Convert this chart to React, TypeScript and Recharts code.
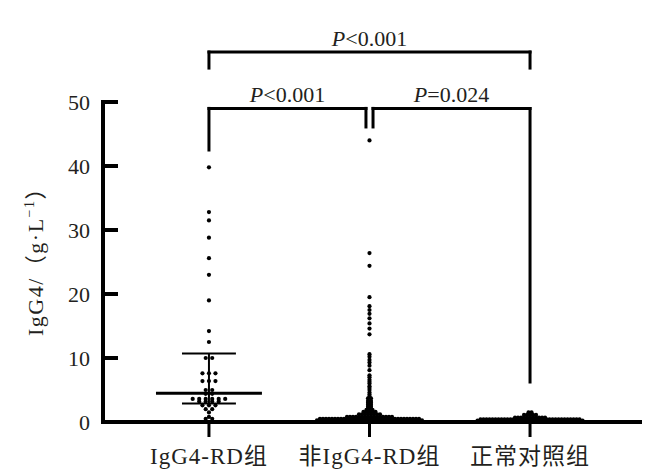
import React from "react";
import { ScatterChart, Scatter, XAxis, YAxis, ReferenceLine } from "recharts";

const FONT = '"Liberation Serif", "Times New Roman", "Noto Sans CJK SC", serif';
const INK = "#231f20";

const CATEGORIES = ["IgG4-RD组", "非IgG4-RD组", "正常对照组"];
const Y_TICKS = [0, 10, 20, 30, 40, 50];

// each row: a value (g/L) and how many dots sit side by side at that level
const IGG4_RD_ROWS = [
  { value: 39.8, count: 1 },
  { value: 32.8, count: 1 },
  { value: 31.5, count: 1 },
  { value: 28.8, count: 1 },
  { value: 25.6, count: 1 },
  { value: 23.0, count: 1 },
  { value: 19.0, count: 1 },
  { value: 14.2, count: 1 },
  { value: 12.5, count: 1 },
  { value: 10.0, count: 2 },
  { value: 7.6, count: 3 },
  { value: 6.4, count: 3 },
  { value: 5.0, count: 2 },
  { value: 4.4, count: 2 },
  { value: 3.6, count: 6 },
  { value: 3.2, count: 4 },
  { value: 2.6, count: 3 },
  { value: 2.0, count: 2 },
  { value: 1.5, count: 1 },
  { value: 0.8, count: 1 },
  { value: 0.5, count: 2 },
];

const NON_IGG4_RD_ROWS = [
  { value: 44.0, count: 1 },
  { value: 26.4, count: 1 },
  { value: 24.4, count: 1 },
  { value: 19.5, count: 1 },
  { value: 18.1, count: 1 },
  { value: 17.5, count: 1 },
  { value: 16.9, count: 1 },
  { value: 16.2, count: 1 },
  { value: 15.4, count: 1 },
  { value: 14.6, count: 1 },
  { value: 13.7, count: 1 },
  { value: 10.6, count: 1 },
  { value: 10.2, count: 1 },
  { value: 9.7, count: 1 },
  { value: 9.3, count: 1 },
  { value: 8.8, count: 1 },
  { value: 8.1, count: 1 },
  { value: 7.3, count: 1 },
  { value: 7.0, count: 1 },
  { value: 6.6, count: 1 },
  { value: 6.3, count: 1 },
  { value: 6.0, count: 1 },
  { value: 5.6, count: 1 },
  { value: 5.3, count: 1 },
  { value: 5.0, count: 1 },
  { value: 4.6, count: 1 },
  { value: 4.3, count: 1 },
  { value: 4.0, count: 1 },
  { value: 3.7, count: 2 },
  { value: 3.3, count: 2 },
  { value: 3.0, count: 2 },
  { value: 2.7, count: 2 },
  { value: 2.4, count: 2 },
  { value: 2.1, count: 2 },
  { value: 1.9, count: 3 },
  { value: 1.6, count: 5 },
  { value: 1.2, count: 8 },
  { value: 0.8, count: 16 },
  { value: 0.5, count: 34 },
  { value: 0.25, count: 36 },
];

const CONTROL_ROWS = [
  { value: 1.5, count: 2 },
  { value: 1.1, count: 5 },
  { value: 0.7, count: 11 },
  { value: 0.4, count: 34 },
  { value: 0.2, count: 36 },
];

const IGG4_RD_MEDIAN = 4.5;
const IGG4_RD_Q1 = 2.9;
const IGG4_RD_Q3 = 10.7;

const BRACKETS = [
  { from: 1, to: 3, level: 57.8, leftDrop: 55.3, rightDrop: 55.3, p: "<0.001" },
  { from: 1, to: 1.978, level: 49.0, leftDrop: 42.5, rightDrop: 46.1, p: "<0.001" },
  { from: 2.022, to: 3, level: 49.0, leftDrop: 46.1, rightDrop: 6.25, p: "=0.024" },
];

// layout in x units (one category = 160.5 px)
const PX = 1 / 160.5;
const swarm = (rows, center, gapPx) =>
  rows.flatMap((r) =>
    Array.from({ length: r.count }, (_, i) => ({
      x: center + (i - (r.count - 1) / 2) * gapPx * PX,
      y: r.value,
    }))
  );

const igg4Pts = swarm(IGG4_RD_ROWS, 1, 6.5);
const nonPts = swarm(NON_IGG4_RD_ROWS, 2, 3);
const ctrlPts = swarm(CONTROL_ROWS, 3, 3);

const Dot = (p) => <circle cx={p.cx} cy={p.cy} r={2.1} fill="#000" />;

const textStyle = { fontFamily: FONT, fill: INK };

function YTick({ x, y, payload }) {
  return (
    <g>
      <line x1={x + 13} x2={x + 28} y1={y} y2={y} stroke="#000" strokeWidth={4} />
      <text x={x} y={y} dy="0.35em" textAnchor="end" style={{ ...textStyle, fontSize: 22 }}>
        {payload.value}
      </text>
    </g>
  );
}

function XTick({ x, y, payload }) {
  return (
    <text
      x={x}
      y={y}
      dy="0.8em"
      textAnchor="middle"
      style={{ ...textStyle, fontSize: 23, letterSpacing: 1 }}
    >
      {CATEGORIES[payload.value - 1]}
    </text>
  );
}

function YLabel({ viewBox }) {
  const cx = viewBox.x + 43;
  const cy = viewBox.y + viewBox.height / 2 - 6;
  return (
    <text
      x={cx}
      y={cy}
      transform={`rotate(-90 ${cx} ${cy})`}
      textAnchor="middle"
      style={{ ...textStyle, fontSize: 22, letterSpacing: 1.5 }}
    >
      IgG4/（g·L<tspan style={{ fontSize: 14 }} dy={-9}>−1</tspan>
      <tspan dy={9}>）</tspan>
    </text>
  );
}

function PLabel({ viewBox, p }) {
  if (!viewBox) return null;
  return (
    <text
      x={viewBox.x + viewBox.width / 2}
      y={viewBox.y - 6}
      textAnchor="middle"
      style={{ ...textStyle, fontSize: 22 }}
    >
      <tspan style={{ fontStyle: "italic" }}>P</tspan>
      {p}
    </text>
  );
}

const LINE = { stroke: "#000", strokeWidth: 3, strokeLinecap: "square" as const };

export default function App() {
  return (
    <div style={{ position: "absolute", left: 0, top: 0, background: "#fff" }}>
      <ScatterChart width={658} height={473} margin={{ top: 102, right: 18, left: 0, bottom: 0 }}>
        <XAxis
          type="number"
          dataKey="x"
          domain={[0.34, 3.685]}
          ticks={[1, 2, 3]}
          allowDataOverflow
          height={51}
          tickSize={15}
          tickMargin={9}
          tickLine={{ stroke: "#000", strokeWidth: 3 }}
          axisLine={{ stroke: "#000", strokeWidth: 4, strokeLinecap: "square" }}
          tick={<XTick />}
        />
        <YAxis
          type="number"
          dataKey="y"
          domain={[0, 50]}
          ticks={Y_TICKS}
          allowDataOverflow
          width={103}
          tickSize={0}
          tickMargin={13}
          tickLine={false}
          axisLine={{ stroke: "#000", strokeWidth: 4, strokeLinecap: "square" }}
          tick={<YTick />}
          label={<YLabel />}
        />
        <Scatter data={igg4Pts} shape={Dot} isAnimationActive={false} />
        <Scatter data={nonPts} shape={Dot} isAnimationActive={false} />
        <Scatter data={ctrlPts} shape={Dot} isAnimationActive={false} />

        <ReferenceLine
          segment={[{ x: 1 - 0.33, y: IGG4_RD_MEDIAN }, { x: 1 + 0.33, y: IGG4_RD_MEDIAN }]}
          stroke="#000"
          strokeWidth={3}
          ifOverflow="visible"
        />
        <ReferenceLine
          segment={[{ x: 1 - 0.168, y: IGG4_RD_Q3 }, { x: 1 + 0.168, y: IGG4_RD_Q3 }]}
          stroke="#000"
          strokeWidth={2}
          ifOverflow="visible"
        />
        <ReferenceLine
          segment={[{ x: 1 - 0.168, y: IGG4_RD_Q1 }, { x: 1 + 0.168, y: IGG4_RD_Q1 }]}
          stroke="#000"
          strokeWidth={2}
          ifOverflow="visible"
        />
        <ReferenceLine
          segment={[{ x: 1, y: IGG4_RD_Q1 }, { x: 1, y: IGG4_RD_Q3 }]}
          stroke="#000"
          strokeWidth={2}
          ifOverflow="visible"
        />

        {BRACKETS.map((b, i) => (
          <ReferenceLine
            key={`h${i}`}
            segment={[{ x: b.from, y: b.level }, { x: b.to, y: b.level }]}
            {...LINE}
            ifOverflow="visible"
            label={<PLabel p={b.p} />}
          />
        ))}
        {BRACKETS.map((b, i) => (
          <ReferenceLine
            key={`l${i}`}
            segment={[{ x: b.from, y: b.level }, { x: b.from, y: b.leftDrop }]}
            {...LINE}
            ifOverflow="visible"
          />
        ))}
        {BRACKETS.map((b, i) => (
          <ReferenceLine
            key={`r${i}`}
            segment={[{ x: b.to, y: b.level }, { x: b.to, y: b.rightDrop }]}
            {...LINE}
            ifOverflow="visible"
          />
        ))}
      </ScatterChart>
    </div>
  );
}
